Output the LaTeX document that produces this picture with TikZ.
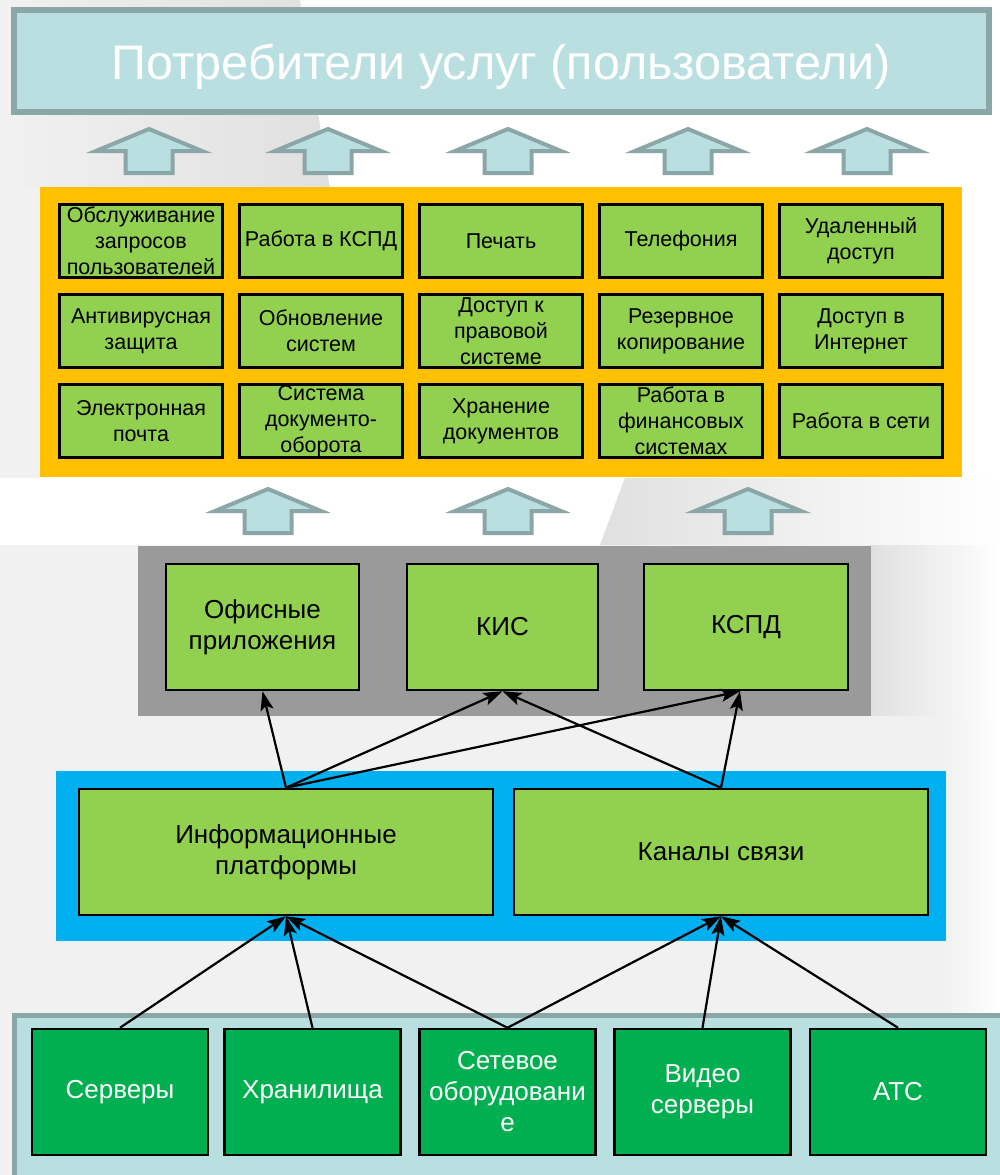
\documentclass[tikz,border=0pt]{standalone}
\usepackage{fontspec}
\setmainfont{Liberation Sans}
\usetikzlibrary{arrows.meta}
\definecolor{cyanlt}{HTML}{BADFE1}
\definecolor{cyanbd}{HTML}{8BA6A6}
\definecolor{ylw}{HTML}{FFC000}
\definecolor{grn}{HTML}{92D050}
\definecolor{dgrn}{HTML}{00B050}
\definecolor{blu}{HTML}{00B0F0}
\definecolor{gry}{HTML}{9A9A9A}
\definecolor{bgg}{HTML}{F1F1F1}
\definecolor{bgd}{HTML}{E0E0E0}
\tikzset{
  gridbox/.style={draw=black, line width=3pt, fill=grn, minimum width=163pt, minimum height=73pt,
    inner sep=0pt, align=center, font=\fontsize{21.5}{26}\selectfont},
  midbox/.style={draw=black, line width=2.5pt, fill=grn, minimum height=126pt,
    inner sep=0pt, align=center, font=\fontsize{26}{31}\selectfont},
  basebox/.style={draw=black, line width=2.5pt, fill=dgrn, minimum width=176pt, minimum height=126pt,
    inner sep=0pt, align=center, text=white, font=\fontsize{26}{31}\selectfont},
  conn/.style={line width=2.2pt, -{Stealth[length=19pt,width=13pt,inset=4pt]}},
  uparrow/.pic={\draw[fill=cyanlt, draw=cyanbd, line width=4pt, miter limit=6]
     (0,0) -- (53,22) -- (23.5,22) -- (23.5,44) -- (-23.5,44) -- (-23.5,22) -- (-53,22) -- cycle;}
}
\begin{document}
\begin{tikzpicture}[x=1pt,y=-1pt]
\useasboundingbox (0,0) rectangle (1000,1175);
\clip (0,0) rectangle (1000,1175);
% background
\fill[bgg] (0,0) rectangle (1000,1175);
\shade[left color=bgg, right color=bgd] (0,0) -- (300,0) -- (330,187) -- (0,187) -- cycle;
\fill[white] (300,0) -- (1000,0) -- (1000,478) -- (625,478) -- (600,545) -- (0,545) -- (0,478)
   -- (40,478) -- (40,187) -- (330,187) -- cycle;
\shade[left color=bgd, right color=white] (625,478) -- (1000,478) -- (1000,545) -- (600,545) -- cycle;
\shade[left color=bgd, right color=white] (870,545) -- (1000,545) -- (1000,770) -- (946,770) -- (946,716) -- (870,716) -- cycle;
\shade[left color=bgg, right color=white] (946,716) rectangle (1000,1012);

% top box
\node[draw=cyanbd, fill=cyanlt, line width=6pt, minimum width=975pt, minimum height=102pt,
      inner sep=0pt] (users) at (501.5,61) {};
\node[anchor=base, inner sep=0pt, text=white, font=\fontsize{48.5}{52}\selectfont]
      (userstext) at (501.5,79) {Потребители услуг (пользователи)};

% upper arrows
\foreach \x in {149,328,508,688,867} \pic at (\x,129) {uparrow};

% yellow panel
\fill[ylw] (40,187) rectangle (962,477);
\node[gridbox] (g11) at (141,241) {Обслуживание\\запросов\\пользователей};
\node[gridbox] (g12) at (321,241) {Работа в КСПД};
\node[gridbox] (g13) at (501,241) {Печать};
\node[gridbox] (g14) at (681,241) {Телефония};
\node[gridbox] (g15) at (861,241) {Удаленный\\доступ};
\node[gridbox] (g21) at (141,331) {Антивирусная\\защита};
\node[gridbox] (g22) at (321,331) {Обновление\\систем};
\node[gridbox] (g23) at (501,331) {Доступ к\\правовой\\системе};
\node[gridbox] (g24) at (681,331) {Резервное\\копирование};
\node[gridbox] (g25) at (861,331) {Доступ в\\Интернет};
\node[gridbox] (g31) at (141,421) {Электронная\\почта};
\node[gridbox] (g32) at (321,421) {Система\\документо-\\оборота};
\node[gridbox] (g33) at (501,421) {Хранение\\документов};
\node[gridbox] (g34) at (681,421) {Работа в\\финансовых\\системах};
\node[gridbox] (g35) at (861,421) {Работа в сети};

% middle arrows
\foreach \x in {268,508,748} \pic at (\x,489) {uparrow};

% gray panel
\fill[gry] (138,546) rectangle (871,716);
\node[midbox, minimum width=193pt] (office) at (262.5,627) {Офисные\\приложения};
\node[midbox, minimum width=191pt] (kis) at (502.5,627) {КИС};
\node[midbox, minimum width=204pt] (kspd) at (746,627) {КСПД};

% blue panel
\fill[blu] (56,771) rectangle (946,941);
\node[midbox, minimum width=414pt] (info) at (286,852) {Информационные\\платформы};
\node[midbox, minimum width=414pt] (chan) at (721,852) {Каналы связи};

% base panel
\draw[draw=cyanbd, fill=cyanlt, line width=5pt] (14,1015) rectangle (1012,1190);
\node[basebox] (srv) at (120,1092) {Серверы};
\node[basebox] (stor) at (312.5,1092) {Хранилища};
\node[basebox] (net) at (507.5,1092) {Сетевое\\оборудовани\\е};
\node[basebox] (video) at (702.5,1092) {Видео\\серверы};
\node[basebox] (ats) at (898,1092) {АТС};

% connectors
\draw[conn] (info.north) -- (office.south);
\draw[conn] (info.north) -- (kis.south);
\draw[conn] (info.north) -- ([xshift=-6pt]kspd.south);
\draw[conn] (chan.north) -- (kis.south);
\draw[conn] (chan.north) -- ([xshift=-6pt]kspd.south);

\draw[conn] (srv.north) -- (info.south);
\draw[conn] (stor.north) -- (info.south);
\draw[conn] (net.north) -- (info.south);
\draw[conn] (net.north) -- (chan.south);
\draw[conn] (video.north) -- (chan.south);
\draw[conn] (ats.north) -- (chan.south);
\end{tikzpicture}
\end{document}
